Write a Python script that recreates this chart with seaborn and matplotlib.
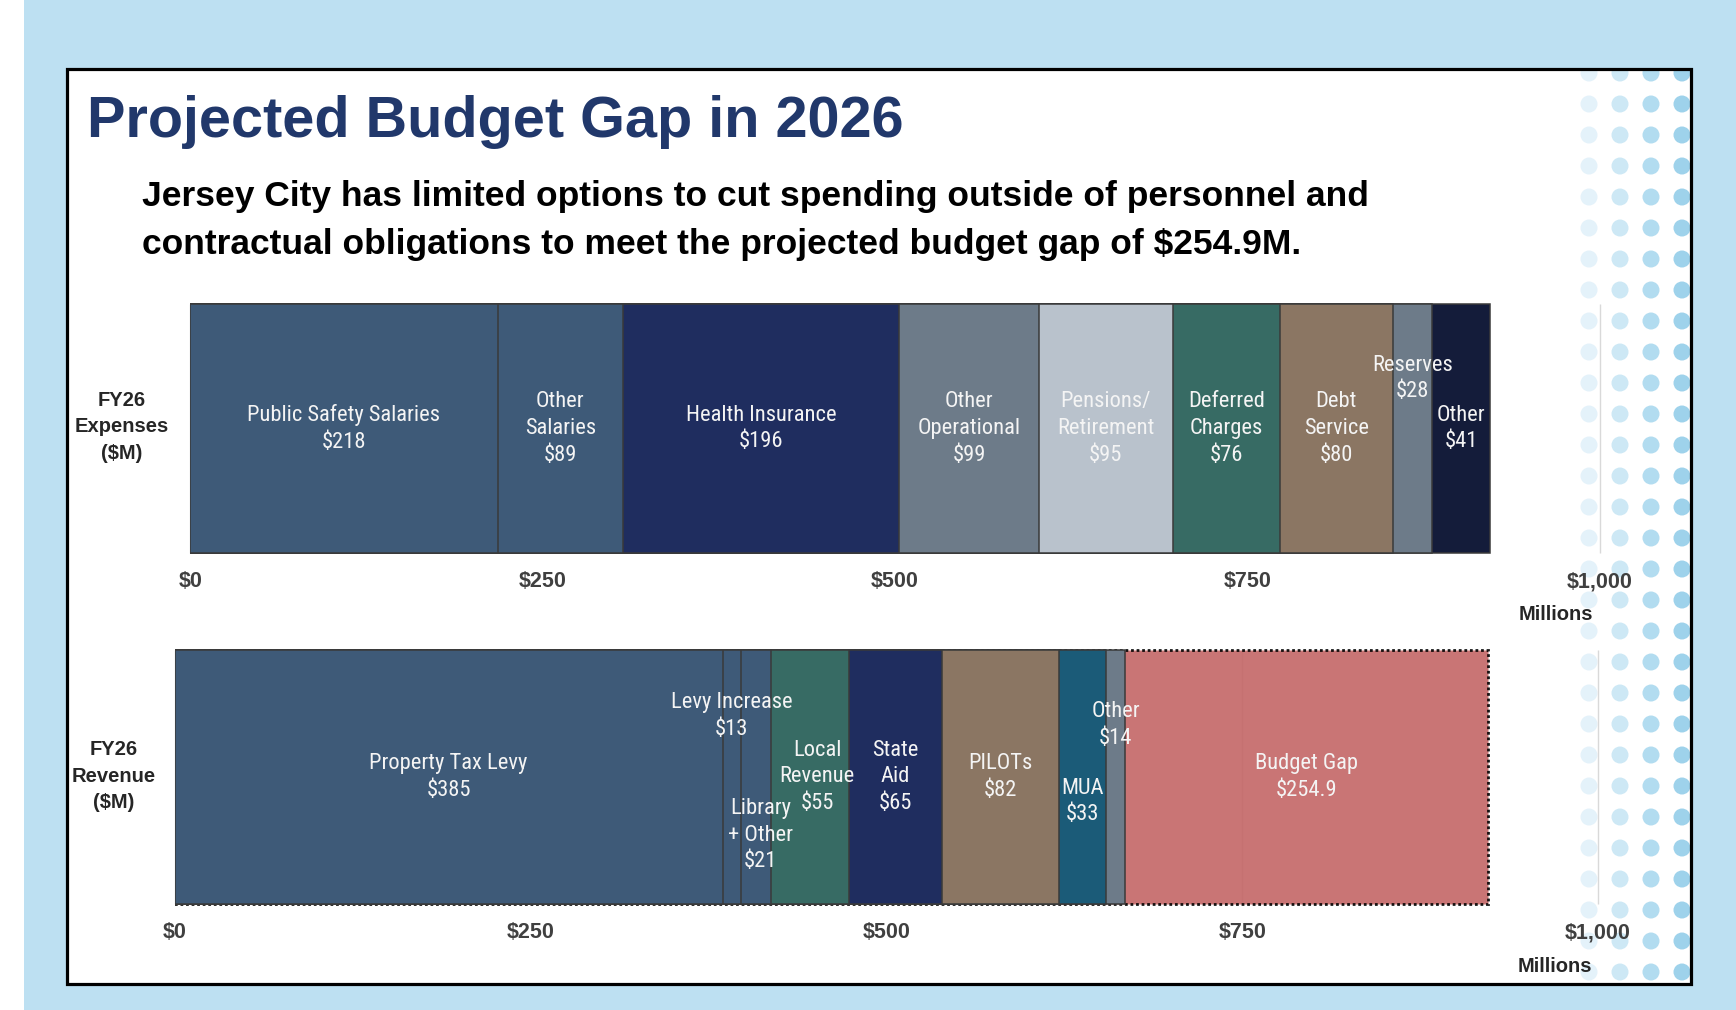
import numpy as np
import pandas as pd
import matplotlib
matplotlib.use("Agg")
import matplotlib.pyplot as plt
from matplotlib.patches import Rectangle
import seaborn as sns

# ---------------- data ----------------
exp_labels = ["Public Safety Salaries", "Other\nSalaries", "Health Insurance", "Other\nOperational",
              "Pensions/\nRetirement", "Deferred\nCharges", "Debt\nService", "Reserves", "Other"]
exp_values = [218, 89, 196, 99, 95, 76, 80, 28, 41]
exp_value_text = ["$218", "$89", "$196", "$99", "$95", "$76", "$80", "$28", "$41"]

rev_labels = ["Property Tax Levy", "Levy Increase", "Library\n+ Other", "Local\nRevenue", "State\nAid",
              "PILOTs", "MUA", "Other", "Budget Gap"]
rev_values = [385, 13, 21, 55, 65, 82, 33, 14, 254.9]
rev_value_text = ["$385", "$13", "$21", "$55", "$65", "$82", "$33", "$14", "$254.9"]

tick_values = [0, 250, 500, 750, 1000]
tick_labels = ["$0", "$250", "$500", "$750", "$1,000"]

# ---------------- styles ----------------
exp_colors = ["#3E5A78", "#3E5A78", "#1F2D5F", "#6D7B89", "#B9C2CC", "#376B64", "#8B7663", "#6D7B89", "#141C3A"]
rev_colors = ["#3E5A78", "#3E5A78", "#3E5A78", "#376B64", "#1F2D5F", "#8B7663", "#1B5B78", "#6D7B89", "#C36666"]
# label offsets (x in data units, y in category units; negative y = up)
exp_offsets = {7: (0, -0.18)}
rev_offsets = {1: (0, -0.216), 2: (3, 0.206), 3: (5, 0), 6: (0, 0.087), 7: (0, -0.184)}

W, H = 1736, 1010
sns.set_theme(style="white")
narrow = ["Roboto Condensed", "DejaVu Sans"]
regular = ["Liberation Sans", "DejaVu Sans"]
plt.rcParams["font.family"] = regular

fig = plt.figure(figsize=(W / 100, H / 100), dpi=100)
fig.patch.set_facecolor("#BDE0F2")


def fx(x):
    return x / W


def fy(y):
    return 1 - y / H


# white strip at left
fig.patches.append(Rectangle((0, 0), fx(24), 1, transform=fig.transFigure, facecolor="white",
                             edgecolor="none", zorder=0))

# background axes in pixel coords
bg = fig.add_axes([0, 0, 1, 1], zorder=0)
bg.set_xlim(0, W)
bg.set_ylim(H, 0)
bg.axis("off")
frame_l, frame_t, frame_r, frame_b = 67, 69, 1691, 984
frame = Rectangle((frame_l, frame_t), frame_r - frame_l, frame_b - frame_t, facecolor="white",
                  edgecolor="none", zorder=1)
bg.add_patch(frame)
dot_cols = [1589, 1620, 1651, 1682]
dot_colors = ["#E4F2FA", "#CDE8F5", "#B2DCF0", "#9ED2EB"]
rows = np.arange(73, 990, 31)
for cx, cc in zip(dot_cols, dot_colors):
    sc = bg.scatter(np.full(len(rows), cx), rows, s=150, color=cc, edgecolor="none", zorder=2)
    sc.set_clip_path(frame)
bg.add_patch(Rectangle((frame_l, frame_t), frame_r - frame_l, frame_b - frame_t, facecolor="none",
                       edgecolor="black", linewidth=2.3, zorder=5))

# titles
fig.text(fx(87), fy(137), "Projected Budget Gap in 2026", fontsize=41.5, fontweight="bold",
         color="#21386B", ha="left", va="baseline", family=regular)
fig.text(fx(142), fy(206), "Jersey City has limited options to cut spending outside of personnel and",
         fontsize=25.45, fontweight="bold", color="black", ha="left", va="baseline", family=regular)
fig.text(fx(142), fy(254), "contractual obligations to meet the projected budget gap of $254.9M.",
         fontsize=25.45, fontweight="bold", color="black", ha="left", va="baseline", family=regular)


def stacked(ax_rect, row_name, labels, values, vtext, colors, offsets, gap_last, ylab, ylab_xy, mill_xy):
    ax = fig.add_axes(ax_rect, zorder=3)
    ax.set_facecolor("none")
    ends = np.cumsum(values)
    df = pd.DataFrame({"row": row_name, "segment": [str(i) for i in range(len(values))],
                       "end": ends})
    order = [str(i) for i in range(len(values))][::-1]
    pal = {str(i): c for i, c in enumerate(colors)}
    ax.vlines(tick_values, -0.45, 0.45, color="#D9D9D9", linewidth=1.0, zorder=0.5, clip_on=False)
    sns.barplot(data=df, x="end", y="row", hue="segment", hue_order=order, palette=pal,
                dodge=False, saturation=1, legend=False, orient="h", width=0.9, errorbar=None,
                edgecolor="#3A3A3A", linewidth=1.1, ax=ax, zorder=2)
    if gap_last:
        for p in ax.patches:
            if abs(p.get_width() - ends[-1]) < 1e-6:
                p.set_linestyle((0, (1, 1)))
                p.set_edgecolor("black")
                p.set_linewidth(2.0)
                p.set_alpha(0.9)
    ax.set_xlim(0, 1000)
    ax.set_ylim(0.5, -0.5)
    starts = ends - np.array(values)
    for i, (lab, v, vt) in enumerate(zip(labels, values, vtext)):
        dx, dy = offsets.get(i, (0, 0))
        ax.text(starts[i] + v / 2 + dx, dy, lab + "\n" + vt, ha="center", va="center",
                color="#F4F4F4", fontsize=16.2, family=narrow, zorder=6, linespacing=1.35)
    ax.set_xticks(tick_values)
    ax.set_xticklabels(tick_labels, fontsize=15.5, fontweight="bold", color="#404040", family=regular)
    ax.tick_params(axis="x", length=0, pad=3.0)
    ax.set_yticks([])
    ax.set_xlabel("")
    ax.set_ylabel("")
    for s in ax.spines.values():
        s.set_visible(False)
    fig.text(fx(ylab_xy[0]), fy(ylab_xy[1]), ylab, ha="center", va="center", fontsize=14.5,
             fontweight="bold", color="#262626", family=regular, linespacing=1.52)
    fig.text(fx(mill_xy[0]), fy(mill_xy[1]), "Millions", ha="center", va="center", fontsize=14.5,
             fontweight="bold", color="#262626", family=regular)
    return ax


stacked([fx(190.3), fy(567), (1600 - 190.3) / W, 277 / H], "FY26 Expenses", exp_labels, exp_values,
        exp_value_text, exp_colors, exp_offsets, False, "FY26\nExpenses\n($M)", (122, 427), (1556, 615))
stacked([fx(174.7), fy(918), (1598 - 174.7) / W, 282 / H], "FY26 Revenue", rev_labels, rev_values,
        rev_value_text, rev_colors, rev_offsets, True, "FY26\nRevenue\n($M)", (113.5, 776), (1554.5, 966))

fig.savefig("out.png", dpi=100, facecolor=fig.get_facecolor())
